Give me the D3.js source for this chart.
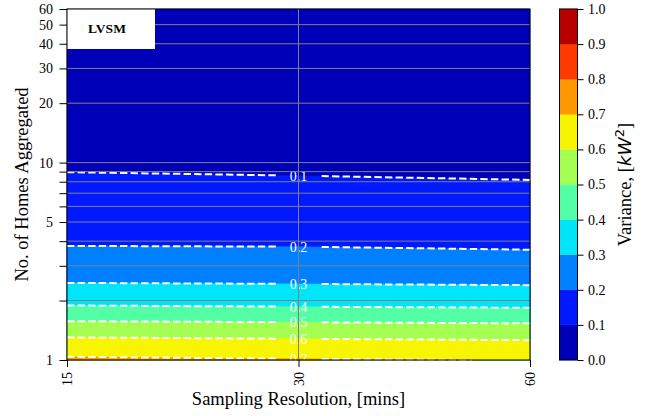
<!DOCTYPE html>
<html>
<head>
<meta charset="utf-8">
<script src="https://cdn.jsdelivr.net/npm/d3@7"></script>
<style>
  body { margin: 0; background: #fff; }
  svg text { font-family: "Liberation Serif", "Times New Roman", Times, serif; }
</style>
</head>
<body>
<svg width="652" height="416"></svg>
<script>
// sampling resolution (mins) along x, number of homes along y
const resolutions = [15, 30, 60];
const homes = [1, 1.25, 1.5, 1.75, 2, 2.5, 3, 3.5, 4, 5, 6, 8, 10, 20, 40, 60];

// variance [kW^2], one column per resolution
const var15 = [0.716, 0.621, 0.528, 0.437, 0.372, 0.294, 0.252, 0.214, 0.190, 0.167, 0.145, 0.112, 0.088, 0.044, 0.022, 0.015];
const var30 = [0.706, 0.612, 0.521, 0.429, 0.367, 0.290, 0.248, 0.213, 0.188, 0.164, 0.142, 0.107, 0.085, 0.043, 0.021, 0.014];
const var60 = [0.698, 0.604, 0.513, 0.422, 0.362, 0.285, 0.243, 0.205, 0.185, 0.160, 0.137, 0.102, 0.081, 0.041, 0.020, 0.014];

const levels = [0, 0.1, 0.2, 0.3, 0.4, 0.5, 0.6, 0.7, 0.8, 0.9, 1.0];
const lineLevels = [0.1, 0.2, 0.3, 0.4, 0.5, 0.6, 0.7];

const yTicks = [1, 2, 3, 4, 5, 6, 7, 8, 9, 10, 20, 30, 40, 50, 60];
const yLabels = [1, 5, 10, 20, 30, 40, 50, 60];
const xTicks = [15, 30, 60];

const serif = "Liberation Serif";

let svg = d3.select("svg");

const plot = {left: 67, right: 530, top: 9, bottom: 360};

let x = d3.scaleLog().base(2).domain([15, 60]).range([plot.left, plot.right]);
let y = d3.scaleLog().domain([1, 60]).range([plot.bottom, plot.top]);

// matplotlib jet
const jetR = d3.scaleLinear().domain([0, 0.35, 0.66, 0.89, 1]).range([0, 0, 1, 1, 0.5]);
const jetG = d3.scaleLinear().domain([0, 0.125, 0.375, 0.64, 0.91, 1]).range([0, 0, 1, 1, 0, 0]);
const jetB = d3.scaleLinear().domain([0, 0.11, 0.34, 0.65, 1]).range([0.5, 1, 1, 0, 0]);
function jet(t) {
    return d3.rgb(255 * jetR(t), 255 * jetG(t), 255 * jetB(t)).formatHex();
}
const bandColor = i => jet((i + 0.5) / (levels.length - 1));

// grid values, row 0 = 1 home
const nx = resolutions.length, ny = homes.length;
let grid = [];
for (let r = 0; r < ny; r++) {
    grid.push(var15[r], var30[r], var60[r]);
}

// grid coords -> pixels (value i sits at i + 0.5)
function along(arr, c) {
    c = Math.max(0, Math.min(arr.length - 1, c - 0.5));
    let i0 = Math.floor(c), i1 = Math.min(arr.length - 1, i0 + 1), t = c - i0;
    return Math.exp(Math.log(arr[i0]) * (1 - t) + Math.log(arr[i1]) * t);
}
function toPixel(gx, gy) {
    return [x(along(resolutions, gx)), y(along(homes, gy))];
}

let path = d3.geoPath(d3.geoTransform({
    point: function(gx, gy) {
        let p = toPixel(gx, gy);
        this.stream.point(p[0], p[1]);
    }
}));

let contours = d3.contours().size([nx, ny]).thresholds(levels.slice(0, -1))(grid);

svg.append("g")
    .selectAll("path")
    .data(contours)
    .enter()
    .append("path")
    .attr("d", path)
    .attr("fill", (d, i) => bandColor(i))
    .attr("stroke", (d, i) => bandColor(i))
    .attr("stroke-width", 0.5);

// iso lines = contour rings without the parts on the grid border
const onEdge = p => p[0] <= 0 || p[0] >= nx || p[1] <= 0 || p[1] >= ny;
function isolines(contour) {
    let lines = [];
    contour.coordinates.forEach(poly => poly.forEach(ring => {
        let pts = ring.slice(0, -1);
        let start = pts.findIndex(onEdge);
        if (start < 0) { lines.push(ring); return; }
        pts = pts.slice(start).concat(pts.slice(0, start), [pts[start]]);
        let cur = [];
        pts.forEach(p => {
            if (onEdge(p)) { if (cur.length > 1) lines.push(cur); cur = []; }
            else cur.push(p);
        });
    }));
    return lines;
}

let lineData = [];
let labels = [];
lineLevels.forEach(lv => {
    let c = contours.find(d => Math.abs(d.value - lv) < 1e-9);
    isolines(c).forEach(l => {
        lineData.push(l.map(p => toPixel(p[0], p[1])));
        let mid = l.find(p => Math.abs(p[0] - 1.5) < 1e-9);
        if (mid) {
            let p = toPixel(mid[0], mid[1]);
            labels.push({value: lv, x: p[0], y: p[1]});
        }
    });
});

// gaps in the dashed lines behind the labels
let mask = svg.append("defs").append("mask").attr("id", "gaps");
mask.append("rect")
    .attr("x", 0).attr("y", 0).attr("width", 652).attr("height", 416)
    .attr("fill", "white");
mask.selectAll(".gap")
    .data(labels)
    .enter()
    .append("rect")
    .attr("x", d => d.x - 22)
    .attr("y", d => d.y - 6)
    .attr("width", 45)
    .attr("height", 12)
    .attr("fill", "black");

svg.append("g")
    .attr("mask", "url(#gaps)")
    .selectAll("path")
    .data(lineData)
    .enter()
    .append("path")
    .attr("d", d3.line())
    .attr("fill", "none")
    .attr("stroke", "white")
    .attr("stroke-width", 2)
    .attr("stroke-dasharray", "7.4,3.2");

svg.append("g")
    .selectAll("text")
    .data(labels)
    .enter()
    .append("text")
    .attr("x", d => d.x)
    .attr("y", d => d.y)
    .attr("dy", "0.35em")
    .attr("text-anchor", "middle")
    .attr("font-family", serif)
    .attr("font-size", 14)
    .attr("fill", "white")
    .text(d => d3.format(".1f")(d.value));

// grid
let gridG = svg.append("g").attr("stroke", "#808080").attr("stroke-width", 1);
gridG.selectAll(".hy")
    .data(yTicks.slice(1, -1))
    .enter()
    .append("line")
    .attr("x1", plot.left).attr("x2", plot.right)
    .attr("y1", d => y(d)).attr("y2", d => y(d));
gridG.selectAll(".vx")
    .data(xTicks.slice(1, -1))
    .enter()
    .append("line")
    .attr("x1", d => x(d)).attr("x2", d => x(d))
    .attr("y1", plot.top).attr("y2", plot.bottom);

// legend box
svg.append("rect")
    .attr("x", plot.left)
    .attr("y", plot.top)
    .attr("width", 88)
    .attr("height", 40)
    .attr("fill", "white");
svg.append("text")
    .attr("x", 107)
    .attr("y", 32.7)
    .attr("text-anchor", "middle")
    .attr("font-family", serif)
    .attr("font-size", 13.5)
    .attr("font-weight", "bold")
    .text("LVSM");

// axes
let yAxis = svg.append("g")
    .attr("transform", `translate(${plot.left},0)`)
    .call(d3.axisLeft(y)
        .tickValues(yTicks)
        .tickFormat(d => yLabels.includes(d) ? d : "")
        .tickSize(7.5)
        .tickPadding(6.5)
        .tickSizeOuter(0));

let xAxis = svg.append("g")
    .attr("transform", `translate(0,${plot.bottom})`)
    .call(d3.axisBottom(x)
        .tickValues(xTicks)
        .tickFormat(d => d)
        .tickSize(7)
        .tickSizeOuter(0));
xAxis.selectAll("text")
    .attr("transform", "rotate(-90)")
    .attr("x", -12)
    .attr("y", 0)
    .attr("dy", "0.35em")
    .attr("text-anchor", "end");

[yAxis, xAxis].forEach(a => {
    a.attr("font-family", serif).attr("font-size", 14);
    a.select(".domain").remove();
    a.selectAll("line").attr("stroke", "black");
});

svg.append("rect")
    .attr("x", plot.left)
    .attr("y", plot.top)
    .attr("width", plot.right - plot.left)
    .attr("height", plot.bottom - plot.top)
    .attr("fill", "none")
    .attr("stroke", "black")
    .attr("stroke-width", 1);

svg.append("text")
    .attr("x", (plot.left + plot.right) / 2)
    .attr("y", 405)
    .attr("text-anchor", "middle")
    .attr("font-family", serif)
    .attr("font-size", 18.5)
    .text("Sampling Resolution, [mins]");

svg.append("text")
    .attr("transform", `translate(28,${(plot.top + plot.bottom) / 2}) rotate(-90)`)
    .attr("text-anchor", "middle")
    .attr("font-family", serif)
    .attr("font-size", 18.5)
    .text("No. of Homes Aggregated");

// colour bar
const bar = {left: 559.5, width: 18};
let cy = d3.scaleLinear().domain([0, 1]).range([plot.bottom, plot.top]);

svg.append("g")
    .selectAll("rect")
    .data(levels.slice(0, -1))
    .enter()
    .append("rect")
    .attr("x", bar.left)
    .attr("y", (d, i) => cy(levels[i + 1]))
    .attr("width", bar.width)
    .attr("height", (d, i) => cy(levels[i]) - cy(levels[i + 1]))
    .attr("fill", (d, i) => bandColor(i))
    .attr("stroke", (d, i) => bandColor(i))
    .attr("stroke-width", 0.3);

svg.append("rect")
    .attr("x", bar.left)
    .attr("y", plot.top)
    .attr("width", bar.width)
    .attr("height", plot.bottom - plot.top)
    .attr("fill", "none")
    .attr("stroke", "black")
    .attr("stroke-width", 1);

let cAxis = svg.append("g")
    .attr("transform", `translate(${bar.left + bar.width},0)`)
    .call(d3.axisRight(cy)
        .tickValues(levels)
        .tickFormat(d3.format(".1f"))
        .tickSize(6)
        .tickPadding(4.5)
        .tickSizeOuter(0));
cAxis.attr("font-family", serif).attr("font-size", 14);
cAxis.select(".domain").remove();
cAxis.selectAll("line").attr("stroke", "black");

let cLabel = svg.append("text")
    .attr("transform", `translate(631,${(plot.top + plot.bottom) / 2}) rotate(-90)`)
    .attr("text-anchor", "middle")
    .attr("font-family", serif)
    .attr("font-size", 18.5);
cLabel.append("tspan").text("Variance, [");
cLabel.append("tspan")
    .attr("font-family", "DejaVu Sans")
    .attr("font-style", "italic")
    .text("kW");
cLabel.append("tspan")
    .attr("font-family", "DejaVu Sans")
    .attr("font-size", 13)
    .attr("dy", -7)
    .text("2");
cLabel.append("tspan")
    .attr("dy", 7)
    .text("]");
</script>
</body>
</html>
